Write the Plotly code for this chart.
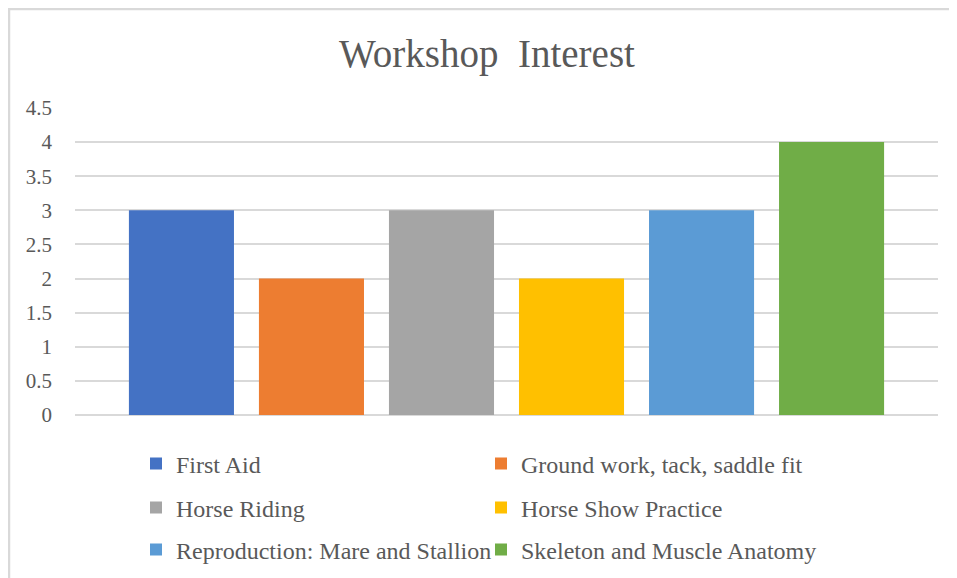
import plotly.graph_objects as go

title = "Workshop  Interest"
series_names = [
    "First Aid",
    "Ground work, tack, saddle fit",
    "Horse Riding",
    "Horse Show Practice",
    "Reproduction: Mare and Stallion",
    "Skeleton and Muscle Anatomy",
]
series_values = [3, 2, 3, 2, 3, 4]
series_colors = ["#4472C4", "#ED7D31", "#A5A5A5", "#FFC000", "#5B9BD5", "#70AD47"]
category = ["Workshop Interest"]
y_ticks = [0, 0.5, 1, 1.5, 2, 2.5, 3, 3.5, 4, 4.5]
y_tick_labels = ["0", "0.5", "1", "1.5", "2", "2.5", "3", "3.5", "4", "4.5"]

FONT = "Liberation Serif, Times New Roman, serif"
TXT = "#595959"

OFF = 8  # page body margin
PAGE_W, PAGE_H = 957, 578
W, H = PAGE_W - OFF, PAGE_H - OFF
L, R, T, B = 75, 938, 108, 415  # plot area in page pixels

legend_ids = ["legend", "legend", "legend2", "legend2", "legend3", "legend3"]

fig = go.Figure()
for name, val, col, lg in zip(series_names, series_values, series_colors, legend_ids):
    fig.add_trace(go.Bar(
        x=category, y=[val], name=name,
        marker=dict(color=col, line=dict(width=0)),
        legend=lg,
    ))

def px_x(p):
    return (p - L) / (R - L)

def px_y(p):
    return (B - p) / (B - T)

leg_common = dict(
    orientation="h", xanchor="left", yanchor="middle",
    entrywidth=300, entrywidthmode="pixels",
    font=dict(family=FONT, size=24, color=TXT),
    bgcolor="rgba(0,0,0,0)", itemwidth=30, traceorder="normal",
)
lx = px_x(136)

fig.update_layout(
    width=W, height=H,
    margin=dict(l=L - OFF, r=PAGE_W - R, t=T - OFF, b=PAGE_H - B, pad=0, autoexpand=False),
    paper_bgcolor="white", plot_bgcolor="white",
    barmode="group", bargap=0.096, bargroupgap=0.192,
    title=dict(text=title, x=(487 - OFF) / W, xanchor="center",
               y=1 - (53 - OFF) / H, yanchor="middle",
               xref="container", yref="container",
               font=dict(family=FONT, size=39, color=TXT)),
    xaxis=dict(showticklabels=False, showgrid=False, zeroline=False, showline=False),
    yaxis=dict(range=[0, 4.5], tickvals=y_ticks, ticktext=y_tick_labels,
               showgrid=True, gridcolor="#D9D9D9", gridwidth=1.5,
               zeroline=True, zerolinecolor="#D9D9D9", zerolinewidth=1.5,
               showline=False, ticks="", ticklabelstandoff=22,
               tickfont=dict(family=FONT, size=21, color=TXT)),
    legend=dict(x=lx, y=px_y(464), **leg_common),
    legend2=dict(x=lx, y=px_y(508), **leg_common),
    legend3=dict(x=lx, y=px_y(550), **leg_common),
    showlegend=True,
)

# outer chart border (top and left edges visible)
fig.add_shape(type="line", xref="paper", yref="paper",
              x0=px_x(8), x1=px_x(PAGE_W), y0=px_y(9), y1=px_y(9),
              line=dict(color="#D9D9D9", width=2.5))
fig.add_shape(type="line", xref="paper", yref="paper",
              x0=px_x(9), x1=px_x(9), y0=px_y(8), y1=px_y(PAGE_H),
              line=dict(color="#D9D9D9", width=2.5))

fig.write_html("out.html")
